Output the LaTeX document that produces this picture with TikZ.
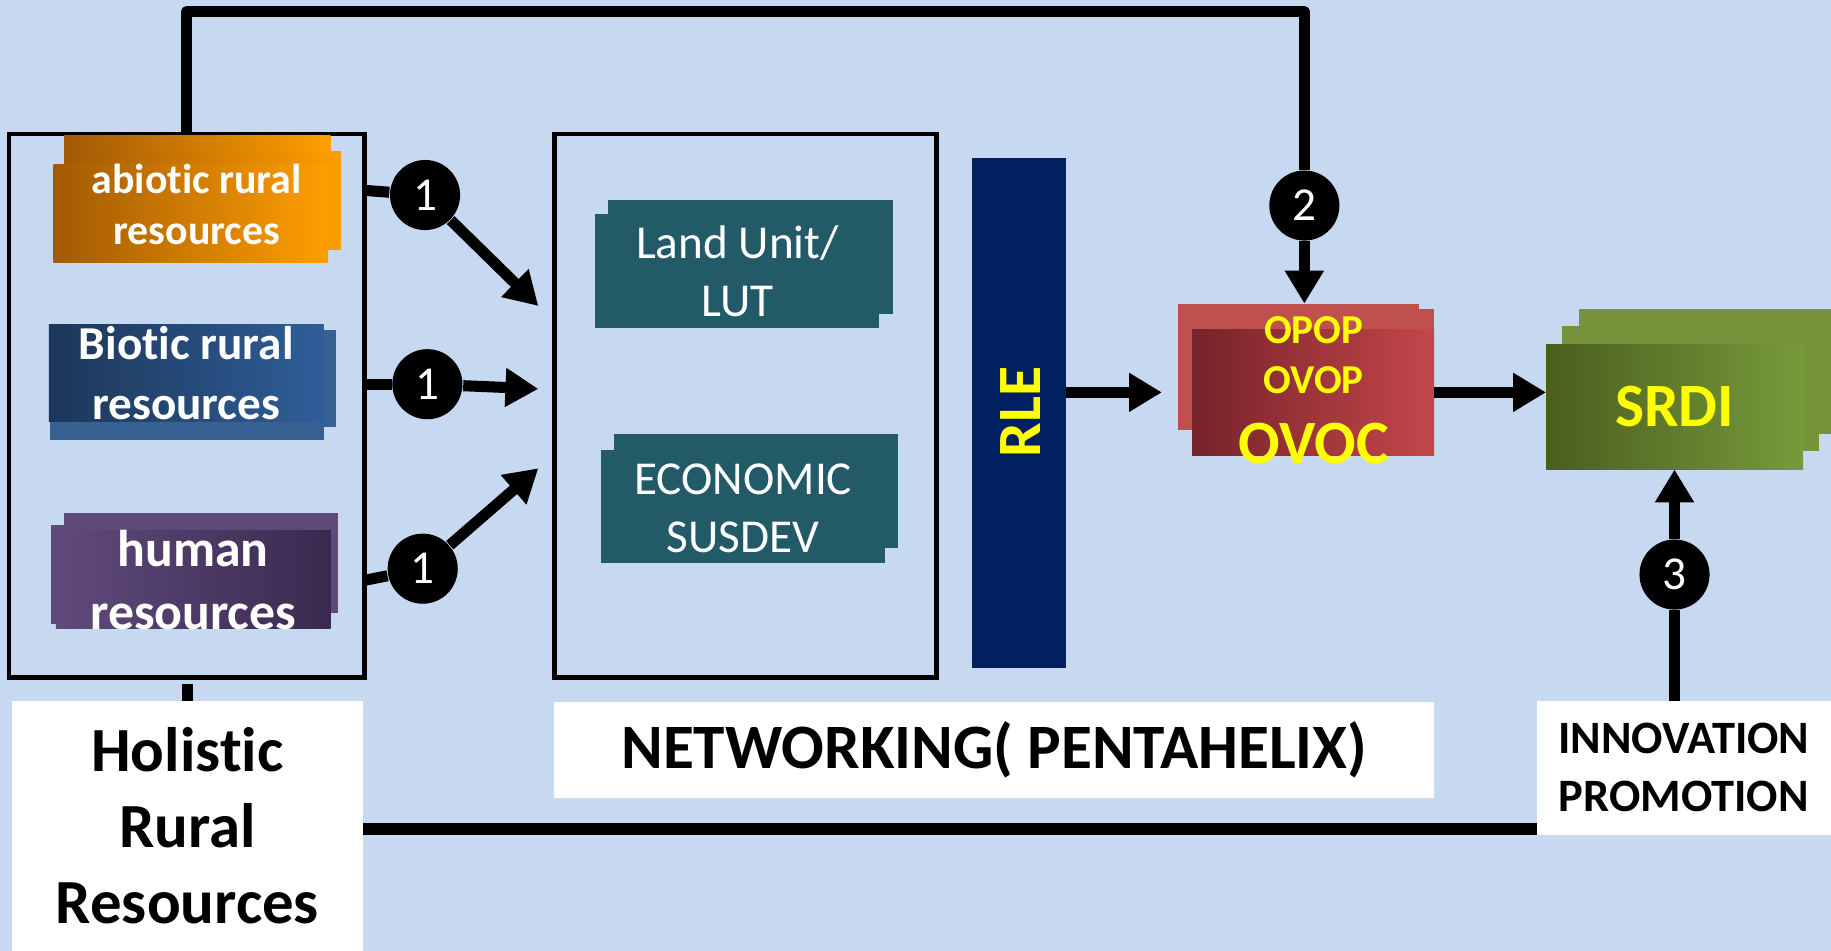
\documentclass[tikz,border=0pt]{standalone}
\usepackage{fontspec}
\setmainfont{Carlito}[Ligatures=NoCommon]
\usetikzlibrary{arrows.meta, calc}

\definecolor{fondo}{HTML}{C6D9F1}
\definecolor{abioL}{HTML}{A25A04}
\definecolor{abioR}{HTML}{FF9E00}
\definecolor{bioL}{HTML}{1D3659}
\definecolor{bioR}{HTML}{2F5E98}
\definecolor{bioB}{HTML}{376093}
\definecolor{humL}{HTML}{604A7D}
\definecolor{humR}{HTML}{3A2A4F}
\definecolor{humB}{HTML}{5F497A}
\definecolor{teal}{HTML}{225A68}
\definecolor{rlebg}{HTML}{002060}
\definecolor{ovocL}{HTML}{76232A}
\definecolor{ovocR}{HTML}{C4474A}
\definecolor{ovocB}{HTML}{C0504D}
\definecolor{srdiL}{HTML}{4A5E1E}
\definecolor{srdiR}{HTML}{779A3A}
\definecolor{srdiB}{HTML}{77933C}
\definecolor{amarillo}{HTML}{FFFF00}

\tikzset{
  caja/.style={rectangle, inner sep=0pt, outer sep=0pt, align=center},
  marco/.style={caja, draw=black, line width=1.1pt},
  blanco/.style={caja, fill=white, font=\bfseries},
  numero/.style={circle, fill=black, text=white, minimum size=0.6cm, inner sep=0pt, font=\fontsize{11.5}{12}\selectfont},
  linea/.style={line width=2.7pt, line join=round},
  flecha/.style={line width=2.7pt, -{Triangle[length=8pt,width=9pt]}},
}

\begin{document}
\begin{tikzpicture}[x=0.01cm, y=-0.01cm]
%Fondo
\fill[fondo, use as bounding box] (0,0) rectangle (1568,814);

%Recursos
\node[marco, minimum width=3.04cm, minimum height=4.65cm] (leftbox) at (160,347.5) {};

\node[caja, left color=abioL, right color=abioR, minimum width=2.28cm, minimum height=0.84cm] (abioticB) at (169,158) {};
\node[caja, left color=abioL, right color=abioR, minimum width=2.35cm, minimum height=0.84cm] (abioticA) at (174.5,172) {};
\node[caja, left color=abioL, right color=abioR, minimum width=2.35cm, minimum height=0.84cm] (abiotic) at (163.5,183) {};
\node[caja, text=white, font=\bfseries\fontsize{10.2}{12.5}\selectfont] (abiotictext) at ($(abiotic)+(5,-8)$) {abiotic rural\\resources};

\node[caja, fill=bioB, minimum width=2.35cm, minimum height=0.83cm] (bioticB) at (170.5,324.5) {};
\node[caja, fill=bioB, minimum width=2.35cm, minimum height=0.83cm] (bioticA) at (160,335.5) {};
\node[caja, left color=bioL, right color=bioR, minimum width=2.35cm, minimum height=0.83cm,
  text=white, font=\bfseries\fontsize{11.5}{14.4}\selectfont] (biotic) at (159.5,319.5) {Biotic rural\\resources};

\node[caja, fill=humB, minimum width=2.34cm, minimum height=0.86cm] (humanB) at (172,482) {};
\node[caja, fill=humB, minimum width=2.35cm, minimum height=0.84cm] (humanA) at (161.5,492) {};
\node[caja, left color=humL, right color=humR, minimum width=2.35cm, minimum height=0.84cm] (human) at (165.5,496) {};
\node[caja, text=white, font=\bfseries\fontsize{12.6}{15.4}\selectfont] (humantext) at ($(human)+(0,1)$) {human\\resources};

%Red
\node[marco, minimum width=3.27cm, minimum height=4.65cm] (midbox) at (638.5,347.5) {};
\node[caja, fill=teal, minimum width=2.44cm, minimum height=0.98cm] (landB) at (643,220) {};
\node[caja, fill=teal, minimum width=2.43cm, minimum height=0.98cm,
  text=white, font=\fontsize{11.5}{14.1}\selectfont] (land) at (631.5,232) {Land Unit/\\LUT};
\node[caja, fill=teal, minimum width=2.43cm, minimum height=0.97cm] (econB) at (647.5,420.5) {};
\node[caja, fill=teal, minimum width=2.43cm, minimum height=0.97cm] (econ) at (636.5,433.5) {};
\node[caja, text=white, font=\fontsize{11.5}{14.1}\selectfont] (econtext) at ($(econ)+(0,2)$) {ECONOMIC\\SUSDEV};

\node[caja, fill=rlebg, minimum width=0.81cm, minimum height=4.37cm] (rle) at (872.5,353.5) {};
\node[rotate=90, text=amarillo, font=\bfseries\fontsize{15}{18}\selectfont] (rletext) at (874,353) {RLE};

%Productos
\node[caja, fill=ovocB, minimum width=2.06cm, minimum height=1.08cm] (ovocBack) at (1112,314) {};
\node[caja, fill=ovocB, minimum width=2.06cm, minimum height=1.08cm] (ovocMid) at (1125,319) {};
\node[caja, left color=ovocL, right color=ovocR, minimum width=2.07cm, minimum height=1.08cm] (ovoc) at (1124.5,336) {};
\node[anchor=base, text=amarillo, font=\bfseries\fontsize{10}{12}\selectfont] (opop) at (1125,294) {OPOP};
\node[anchor=base, text=amarillo, font=\bfseries\fontsize{10}{12}\selectfont] (ovop) at (1125,337) {OVOP};
\node[anchor=base, text=amarillo, font=\bfseries\fontsize{15}{18}\selectfont] (ovoctext) at (1125,397) {OVOC};

\node[caja, fill=srdiB, minimum width=2.2cm, minimum height=1.07cm] (srdiBack) at (1462,318.5) {};
\node[caja, fill=srdiB, minimum width=2.2cm, minimum height=1.07cm] (srdiMid) at (1448,332.5) {};
\node[caja, left color=srdiL, right color=srdiR, minimum width=2.2cm, minimum height=1.07cm,
  text=amarillo, font=\bfseries\fontsize{15}{18}\selectfont] (srdi) at (1434,348.5) {SRDI};

%Etiquetas
\node[blanco, minimum width=3.01cm, minimum height=2.14cm, font=\bfseries\fontsize{15.3}{18.6}\selectfont] (holistic) at (160.5,707) {Holistic\\Rural\\Resources};
\node[blanco, minimum width=7.53cm, minimum height=0.82cm, font=\bfseries\fontsize{15.4}{18}\selectfont] (networking) at (851.5,642) {NETWORKING( PENTAHELIX)};
\node[blanco, minimum width=2.52cm, minimum height=1.15cm, font=\bfseries\fontsize{11.3}{14.1}\selectfont] (innovation) at (1442,657.5) {INNOVATION\\PROMOTION};

%Numeros
\node[numero] (c1a) at (364,167) {1};
\node[numero] (c1b) at (366,329) {1};
\node[numero] (c1c) at (362,487) {1};
\node[numero] (c2) at (1117,176) {2};
\node[numero] (c3) at (1434,492) {3};

\coordinate (tipa) at (461,262);
\coordinate (tipb) at (461,333);
\coordinate (tipc) at (461,401);
\coordinate (ovocin) at (995,336);

%Flechas
\draw[linea] (leftbox.north) |- (c2 |- 0,10) -- (c2);
\draw[flecha] (c2) -- (c2 |- ovocBack.north);

\draw[linea] ($(leftbox.east |- c1a)+(0,-4)$) -- (c1a);
\draw[flecha] (c1a) -- (tipa);
\draw[linea] (leftbox.east |- c1b) -- (c1b);
\draw[flecha] (c1b) -- (tipb);
\draw[linea] ($(leftbox.east |- c1c)+(0,10)$) -- (c1c);
\draw[flecha] (c1c) -- (tipc);

\draw[flecha] (rle.east |- ovoc) -- (ovocin);
\draw[flecha] (ovoc.east) -- (srdi.west |- ovoc.east);

\draw[linea] (innovation.north -| c3) -- (c3);
\draw[flecha] (c3) -- (srdi.south -| c3);

\draw[linea] (holistic.north) -- ++(0,-14);
\draw[line width=3pt] ($(holistic.east |- innovation.south)+(0,-5)$) -- ($(innovation.south west)+(0,-5)$);
\end{tikzpicture}
\end{document}
